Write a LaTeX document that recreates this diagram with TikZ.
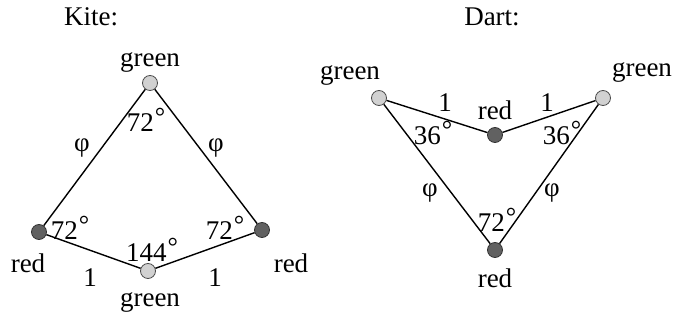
\documentclass[tikz,border=0pt]{standalone}
\usepackage{fontspec}
\setmainfont{Liberation Serif}
\newcommand\dg{\kern1pt\raisebox{6pt}{\fontsize{26}{26}\selectfont °}}
\begin{document}
\begin{tikzpicture}[x=1pt,y=-1pt,
  every node/.style={font=\fontsize{27}{31}\selectfont, inner sep=0pt},
  anglbl/.style={anchor=base},
  lightdot/.style={circle, draw=black!70, line width=0.8pt, fill=black!18, minimum size=15pt},
  darkdot/.style={circle, draw=black!80, line width=0.8pt, fill=black!62, minimum size=15pt},
  edge/.style={line width=1.4pt, black}]
\useasboundingbox (0,0) rectangle (673,320);
% Kite
\node (kt) at (150,83) [lightdot] {};
\node (kl) at (39,232) [darkdot] {};
\node (kr) at (262,230) [darkdot] {};
\node (kb) at (148,271) [lightdot] {};
\draw[edge] (kt) -- (kl) (kt) -- (kr) (kl) -- (kb) (kr) -- (kb);
\node (kitelbl) at (91,17) {Kite:};
\node (ktl) at (150,62) {green};
\node (kbl) at (150,302) {green};
\node (kll) at (28,263) {red};
\node (krl) at (291,263) {red};
\node (kphil) at (82,148) {φ};
\node (kphir) at (216,148) {φ};
\node (ka1) at (146,132) [anglbl] {72\dg};
\node (ka2) at (70,240) [anglbl] {72\dg};
\node (ka3) at (225,240) [anglbl] {72\dg};
\node (ka4) at (152,262) [anglbl] {144\dg};
\node (k1l) at (90,278) {1};
\node (k1r) at (215,278) {1};
% Dart
\node (dl) at (379,98) [lightdot] {};
\node (dr) at (603,98) [lightdot] {};
\node (dm) at (495,135) [darkdot] {};
\node (db) at (495,250) [darkdot] {};
\draw[edge] (dl) -- (dm) (dr) -- (dm) (dl) -- (db) (dr) -- (db);
\node (dartlbl) at (492,17) {Dart:};
\node (dll) at (350,75) {green};
\node (drl) at (642,72) {green};
\node (dml) at (495,110) {red};
\node (dbl) at (495,278) {red};
\node (d1l) at (445,103) {1};
\node (d1r) at (547,103) {1};
\node (da1) at (433,145) [anglbl] {36\dg};
\node (da2) at (562,145) [anglbl] {36\dg};
\node (dphil) at (430,193) {φ};
\node (dphir) at (552,193) {φ};
\node (da3) at (497,232) [anglbl] {72\dg};
\end{tikzpicture}
\end{document}
